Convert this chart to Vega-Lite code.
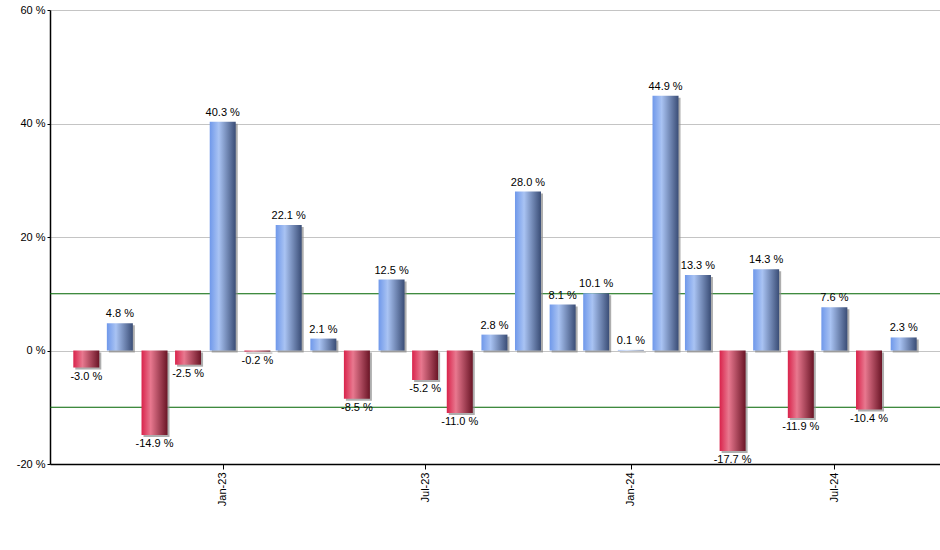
{
  "$schema": "https://vega.github.io/schema/vega-lite/v6.json",
  "width": 890,
  "height": 454,
  "autosize": {"type": "none"},
  "padding": {"left": 50, "top": 10, "right": 0, "bottom": 86},
  "background": "white",
  "config": {
    "view": {"stroke": null},
    "font": "Liberation Sans",
    "axis": {"labelFont": "Liberation Sans", "labelFontSize": 11, "labelColor": "#000000"}
  },
  "datasets": {
    "bars": [
      {"date": "2022-09-01", "v": -3.0},
      {"date": "2022-10-01", "v": 4.8},
      {"date": "2022-11-01", "v": -14.9},
      {"date": "2022-12-01", "v": -2.5},
      {"date": "2023-01-01", "v": 40.3},
      {"date": "2023-02-01", "v": -0.2},
      {"date": "2023-03-01", "v": 22.1},
      {"date": "2023-04-01", "v": 2.1},
      {"date": "2023-05-01", "v": -8.5},
      {"date": "2023-06-01", "v": 12.5},
      {"date": "2023-07-01", "v": -5.2},
      {"date": "2023-08-01", "v": -11.0},
      {"date": "2023-09-01", "v": 2.8},
      {"date": "2023-10-01", "v": 28.0},
      {"date": "2023-11-01", "v": 8.1},
      {"date": "2023-12-01", "v": 10.1},
      {"date": "2024-01-01", "v": 0.1},
      {"date": "2024-02-01", "v": 44.9},
      {"date": "2024-03-01", "v": 13.3},
      {"date": "2024-04-01", "v": -17.7},
      {"date": "2024-05-01", "v": 14.3},
      {"date": "2024-06-01", "v": -11.9},
      {"date": "2024-07-01", "v": 7.6},
      {"date": "2024-08-01", "v": -10.4},
      {"date": "2024-09-01", "v": 2.3}
    ],
    "bands": [{"v": 10}, {"v": -10}]
  },
  "encoding": {
    "y": {
      "field": "v", "type": "quantitative",
      "scale": {"domain": [-20, 60]},
      "axis": {
        "title": null,
        "values": [-20, 0, 20, 40, 60],
        "labelExpr": "replace(datum.label, '−', '-') + ' %'",
        "tickSize": 3,
        "tickColor": "#000000",
        "domainColor": "#000000",
        "domainWidth": 1.5,
        "labelPadding": 2,
        "grid": true,
        "gridColor": "#c4c4c4",
        "gridWidth": 1
      }
    }
  },
  "layer": [
    {
      "data": {"name": "bands"},
      "mark": {"type": "rule", "color": "#006400", "strokeWidth": 1},
      "encoding": {}
    },
    {
      "data": {"name": "bars"},
      "mark": {"type": "bar", "width": 26, "xOffset": 2, "yOffset": 2, "color": "#8c8c8c", "opacity": 0.7},
      "encoding": {
        "x": {
          "field": "date", "type": "temporal",
          "scale": {"type": "utc", "domain": [{"year": 2022, "month": 8, "date": 4, "utc": true}, {"year": 2024, "month": 9, "date": 29, "utc": true}]},
          "axis": {
            "title": null, "format": "%b-%y",
            "values": [{"year": 2023, "month": 1, "date": 1, "utc": true}, {"year": 2023, "month": 7, "date": 1, "utc": true}, {"year": 2024, "month": 1, "date": 1, "utc": true}, {"year": 2024, "month": 7, "date": 1, "utc": true}],
            "labelAngle": 270, "labelAlign": "right", "labelBaseline": "middle", "labelPadding": 3,
            "tickSize": 5, "tickColor": "#000000", "domainColor": "#000000", "domainWidth": 1.5, "grid": false
          }
        }
      }
    },
    {
      "data": {"name": "bars"},
      "mark": {"type": "bar", "width": 26},
      "encoding": {
        "x": {
          "field": "date", "type": "temporal",
          "scale": {"type": "utc", "domain": [{"year": 2022, "month": 8, "date": 4, "utc": true}, {"year": 2024, "month": 9, "date": 29, "utc": true}]},
          "axis": {
            "title": null, "format": "%b-%y",
            "values": [{"year": 2023, "month": 1, "date": 1, "utc": true}, {"year": 2023, "month": 7, "date": 1, "utc": true}, {"year": 2024, "month": 1, "date": 1, "utc": true}, {"year": 2024, "month": 7, "date": 1, "utc": true}],
            "labelAngle": 270, "labelAlign": "right", "labelBaseline": "middle", "labelPadding": 3,
            "tickSize": 5, "tickColor": "#000000", "domainColor": "#000000", "domainWidth": 1.5, "grid": false
          }
        },
        "fill": {
          "condition": {
            "test": "datum.v < 0",
            "value": {"gradient": "linear", "x1": 0, "x2": 1, "y1": 0, "y2": 0,
              "stops": [{"offset": 0, "color": "#d9234b"}, {"offset": 0.35, "color": "#e8788f"}, {"offset": 1, "color": "#6a1526"}]}
          },
          "value": {"gradient": "linear", "x1": 0, "x2": 1, "y1": 0, "y2": 0,
            "stops": [{"offset": 0, "color": "#6f98ea"}, {"offset": 0.35, "color": "#a9c3f3"}, {"offset": 1, "color": "#3a4d76"}]}
        }
      }
    },
    {
      "data": {"name": "bars"},
      "transform": [
        {"filter": "datum.v >= 0"},
        {"calculate": "format(datum.v, '.1f') + ' %'", "as": "label"}
      ],
      "mark": {"type": "text", "fontSize": 11, "color": "#000000", "baseline": "bottom", "dy": -4},
      "encoding": {
        "x": {
          "field": "date", "type": "temporal",
          "scale": {"type": "utc", "domain": [{"year": 2022, "month": 8, "date": 4, "utc": true}, {"year": 2024, "month": 9, "date": 29, "utc": true}]},
          "axis": {
            "title": null, "format": "%b-%y",
            "values": [{"year": 2023, "month": 1, "date": 1, "utc": true}, {"year": 2023, "month": 7, "date": 1, "utc": true}, {"year": 2024, "month": 1, "date": 1, "utc": true}, {"year": 2024, "month": 7, "date": 1, "utc": true}],
            "labelAngle": 270, "labelAlign": "right", "labelBaseline": "middle", "labelPadding": 3,
            "tickSize": 5, "tickColor": "#000000", "domainColor": "#000000", "domainWidth": 1.5, "grid": false
          }
        },
        "text": {"field": "label"}
      }
    },
    {
      "data": {"name": "bars"},
      "transform": [
        {"filter": "datum.v < 0"},
        {"calculate": "'-' + format(-datum.v, '.1f') + ' %'", "as": "label"}
      ],
      "mark": {"type": "text", "fontSize": 11, "color": "#000000", "baseline": "top", "dy": 3},
      "encoding": {
        "x": {
          "field": "date", "type": "temporal",
          "scale": {"type": "utc", "domain": [{"year": 2022, "month": 8, "date": 4, "utc": true}, {"year": 2024, "month": 9, "date": 29, "utc": true}]},
          "axis": {
            "title": null, "format": "%b-%y",
            "values": [{"year": 2023, "month": 1, "date": 1, "utc": true}, {"year": 2023, "month": 7, "date": 1, "utc": true}, {"year": 2024, "month": 1, "date": 1, "utc": true}, {"year": 2024, "month": 7, "date": 1, "utc": true}],
            "labelAngle": 270, "labelAlign": "right", "labelBaseline": "middle", "labelPadding": 3,
            "tickSize": 5, "tickColor": "#000000", "domainColor": "#000000", "domainWidth": 1.5, "grid": false
          }
        },
        "text": {"field": "label"}
      }
    }
  ]
}
